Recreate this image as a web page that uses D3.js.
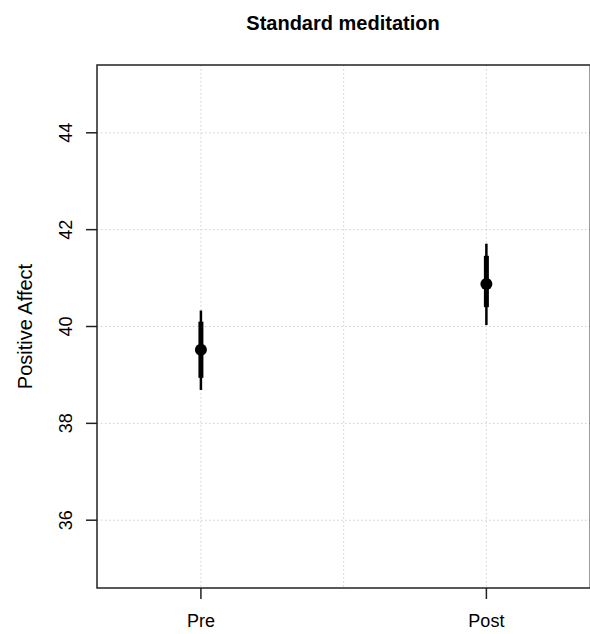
<!DOCTYPE html>
<html>
<head>
<meta charset="utf-8">
<script src="https://cdn.jsdelivr.net/npm/d3@7"></script>
<style>
  body { margin: 0; background: #fff; }
  text { font-family: "Liberation Sans", Arial, sans-serif; fill: #000; }
</style>
</head>
<body>
<script>
// values
let groups = ["Pre", "Post"];
let means = [39.52, 40.88];
let innerLow = [38.94, 40.40];
let innerHigh = [40.10, 41.46];
let outerLow = [38.69, 40.03];
let outerHigh = [40.33, 41.71];
let yTicks = [36, 38, 40, 42, 44];
let xGrid = [1, 1.5, 2];

let width = 590;
let height = 634;
let padL = 97, padR = 590.3, padT = 65, padB = 588;

let svg = d3.select("body").append("svg")
  .attr("width", width)
  .attr("height", height);

// x: group index 1..2, range padded like R (xlim 0.7..2.3 +4%)
let x = d3.scaleLinear().domain([0.636, 2.364]).range([padL, padR]);
let y = d3.scaleLinear().domain([34.6, 45.4]).range([padB, padT]);

let data = groups.map((g, i) => ({
  g: g, i: i + 1, m: means[i],
  lo1: innerLow[i], hi1: innerHigh[i],
  lo2: outerLow[i], hi2: outerHigh[i]
}));

// grid
let grid = svg.append("g");
grid.selectAll(".hg").data(yTicks).enter().append("line")
  .attr("x1", padL).attr("x2", padR)
  .attr("y1", d => y(d)).attr("y2", d => y(d))
  .attr("stroke", "#cfcfcf").attr("stroke-width", 1)
  .attr("stroke-dasharray", "1.5,2.5");
grid.selectAll(".vg").data(xGrid).enter().append("line")
  .attr("x1", d => x(d)).attr("x2", d => x(d))
  .attr("y1", padT).attr("y2", padB)
  .attr("stroke", "#cfcfcf").attr("stroke-width", 1)
  .attr("stroke-dasharray", "1.5,2.5");

// intervals
let marks = svg.append("g");
marks.selectAll(".outer").data(data).enter().append("line")
  .attr("x1", d => x(d.i)).attr("x2", d => x(d.i))
  .attr("y1", d => y(d.lo2)).attr("y2", d => y(d.hi2))
  .attr("stroke", "#000").attr("stroke-width", 2.5);
marks.selectAll(".inner").data(data).enter().append("line")
  .attr("x1", d => x(d.i)).attr("x2", d => x(d.i))
  .attr("y1", d => y(d.lo1)).attr("y2", d => y(d.hi1))
  .attr("stroke", "#000").attr("stroke-width", 5);
marks.selectAll("circle").data(data).enter().append("circle")
  .attr("cx", d => x(d.i)).attr("cy", d => y(d.m))
  .attr("r", 6).attr("fill", "#000");

// box
svg.append("rect")
  .attr("x", padL).attr("y", padT)
  .attr("width", padR - padL).attr("height", padB - padT)
  .attr("fill", "none").attr("stroke", "#222").attr("stroke-width", 1.5);

// y axis
let ya = svg.append("g");
ya.selectAll("line").data(yTicks).enter().append("line")
  .attr("x1", padL - 11).attr("x2", padL)
  .attr("y1", d => y(d)).attr("y2", d => y(d))
  .attr("stroke", "#222").attr("stroke-width", 1.5);
ya.selectAll("text").data(yTicks).enter().append("text")
  .attr("transform", d => "translate(72," + y(d) + ") rotate(-90)")
  .attr("text-anchor", "middle")
  .style("font-size", "18px")
  .text(d => d);

// x axis
let xa = svg.append("g");
xa.selectAll("line").data(data).enter().append("line")
  .attr("x1", d => x(d.i)).attr("x2", d => x(d.i))
  .attr("y1", padB).attr("y2", padB + 11)
  .attr("stroke", "#222").attr("stroke-width", 1.5);
xa.selectAll("text").data(data).enter().append("text")
  .attr("x", d => x(d.i)).attr("y", 627)
  .attr("text-anchor", "middle")
  .style("font-size", "18px")
  .text(d => d.g);

// labels
svg.append("text")
  .attr("transform", "translate(32," + y(40) + ") rotate(-90)")
  .attr("text-anchor", "middle")
  .style("font-size", "20px")
  .text("Positive Affect");

svg.append("text")
  .attr("x", 343).attr("y", 30)
  .attr("text-anchor", "middle")
  .style("font-size", "20px").style("font-weight", "bold")
  .text("Standard meditation");
</script>
</body>
</html>
